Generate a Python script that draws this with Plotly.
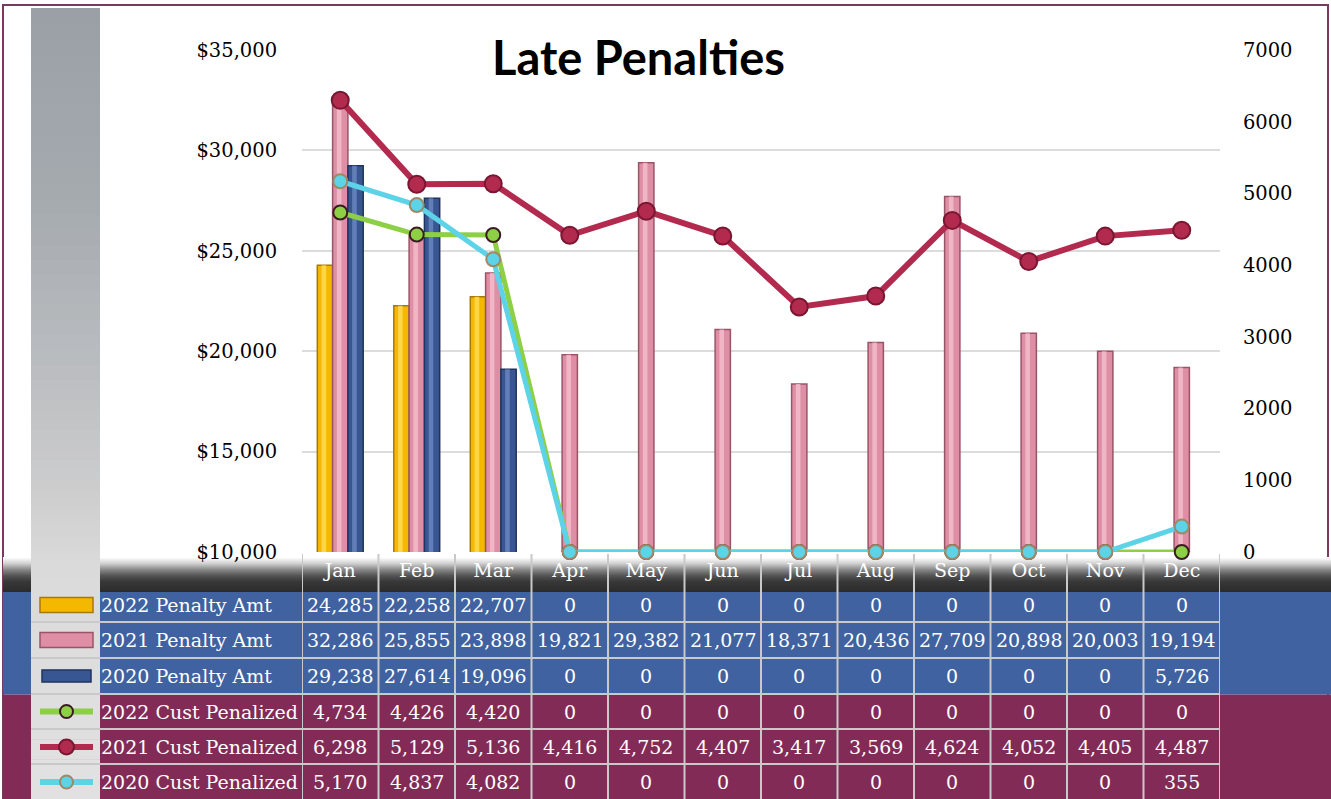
import plotly.graph_objects as go

# ---- data -------------------------------------------------------------
months = ["Jan", "Feb", "Mar", "Apr", "May", "Jun",
          "Jul", "Aug", "Sep", "Oct", "Nov", "Dec"]

amt_2022 = [24285, 22258, 22707, 0, 0, 0, 0, 0, 0, 0, 0, 0]
amt_2021 = [32286, 25855, 23898, 19821, 29382, 21077,
            18371, 20436, 27709, 20898, 20003, 19194]
amt_2020 = [29238, 27614, 19096, 0, 0, 0, 0, 0, 0, 0, 0, 5726]

cust_2022 = [4734, 4426, 4420, 0, 0, 0, 0, 0, 0, 0, 0, 0]
cust_2021 = [6298, 5129, 5136, 4416, 4752, 4407,
             3417, 3569, 4624, 4052, 4405, 4487]
cust_2020 = [5170, 4837, 4082, 0, 0, 0, 0, 0, 0, 0, 0, 355]

row_names = ["2022 Penalty Amt", "2021 Penalty Amt", "2020 Penalty Amt",
             "2022 Cust Penalized", "2021 Cust Penalized", "2020 Cust Penalized"]

# ---- page geometry ----------------------------------------------------
W, H = 1331, 799


def px(x):
    return x / W


def py(y):
    return 1 - y / H


SERIF = "DejaVu Serif"
GOLD, GOLD_EDGE, GOLD_HI = "#F5B800", "#A67A00", "#FFE060"
PINK, PINK_EDGE, PINK_HI = "#DE8FA5", "#9A5468", "#F6C3D1"
BLUE, BLUE_EDGE, BLUE_HI = "#385692", "#1F3360", "#6F8CC4"
GREEN, GREEN_EDGE = "#8DCF45", "#3A1C22"
RED, RED_EDGE = "#B32A4F", "#7A1631"
CYAN, CYAN_EDGE = "#5CD3E6", "#A08866"
TBL_BLUE = "#4062A0"
TBL_PURPLE = "#832B57"
GRIDC = "#DCDCDC"
CELL_LINE = "#C9C9C9"

fig = go.Figure()

# ---- bars (primary axis): body plus a lighter centre stripe -------------
BAR_W = 0.2
for name, vals, fill, edge, hi, off in [
    ("2022 Penalty Amt", amt_2022, GOLD, GOLD_EDGE, GOLD_HI, -0.3),
    ("2021 Penalty Amt", amt_2021, PINK, PINK_EDGE, PINK_HI, -0.1),
    ("2020 Penalty Amt", amt_2020, BLUE, BLUE_EDGE, BLUE_HI, 0.1),
]:
    fig.add_trace(go.Bar(
        x=months, y=vals, name=name, width=BAR_W, offset=off,
        marker=dict(color=fill, line=dict(color=edge, width=1.5)),
        yaxis="y",
    ))
    fig.add_trace(go.Bar(
        x=months, y=vals, name=name, width=BAR_W * 0.3,
        offset=off + BAR_W * 0.28, hoverinfo="skip",
        marker=dict(color=hi, opacity=0.75, line=dict(width=0)),
        yaxis="y",
    ))

# ---- lines (secondary axis) -------------------------------------------
for name, vals, col, edge, msize, lw in [
    ("2022 Cust Penalized", cust_2022, GREEN, GREEN_EDGE, 14, 5),
    ("2021 Cust Penalized", cust_2021, RED, RED_EDGE, 17, 6),
    ("2020 Cust Penalized", cust_2020, CYAN, CYAN_EDGE, 14, 5),
]:
    fig.add_trace(go.Scatter(
        x=months, y=vals, name=name, mode="lines+markers",
        line=dict(color=col, width=lw),
        marker=dict(size=msize, color=col, line=dict(color=edge, width=2)),
        yaxis="y2", cliponaxis=False,
    ))

shapes = []

# outer frame
shapes.append(dict(type="rect", xref="paper", yref="paper",
                   x0=px(3), x1=px(1328), y0=py(799), y1=py(5),
                   line=dict(color="#7A3A60", width=2), fillcolor="white",
                   layer="below"))


def lerp(c1, c2, t):
    a = [int(c1[i:i + 2], 16) for i in (1, 3, 5)]
    b = [int(c2[i:i + 2], 16) for i in (1, 3, 5)]
    return "#%02X%02X%02X" % tuple(round(a[k] + (b[k] - a[k]) * t) for k in range(3))


# table background bands
shapes.append(dict(type="rect", xref="paper", yref="paper",
                   x0=px(3), x1=1, y0=py(694.5), y1=py(592),
                   line=dict(width=0), fillcolor=TBL_BLUE, layer="below"))
shapes.append(dict(type="rect", xref="paper", yref="paper",
                   x0=px(3), x1=1, y0=0, y1=py(694.5),
                   line=dict(width=0), fillcolor=TBL_PURPLE, layer="below"))

# header band gradient (white to near black)
stops = [(557, "#FFFFFF"), (563, "#D0D0D0"), (569, "#8A8A8A"),
         (575, "#555555"), (581, "#383838"), (592, "#2A2A2A")]
for i in range(len(stops) - 1):
    y0, c0 = stops[i]
    y1, c1 = stops[i + 1]
    n = max(1, (y1 - y0))
    for k in range(n):
        shapes.append(dict(type="rect", xref="paper", yref="paper",
                           x0=px(3), x1=1,
                           y0=py(y0 + k + 1.05), y1=py(y0 + k),
                           line=dict(width=0),
                           fillcolor=lerp(c0, c1, k / n), layer="below"))

# left grey column
col_stops = [(8, "#9AA0A6"), (200, "#A6ABB0"), (380, "#BDBFC2"),
             (500, "#CFCFCF"), (560, "#DADADA"), (799, "#E2E2E2")]
for i in range(len(col_stops) - 1):
    y0, c0 = col_stops[i]
    y1, c1 = col_stops[i + 1]
    n = 12
    step = (y1 - y0) / n
    for k in range(n):
        shapes.append(dict(type="rect", xref="paper", yref="paper",
                           x0=px(31), x1=px(100),
                           y0=py(y0 + (k + 1) * step + 0.6), y1=py(y0 + k * step),
                           line=dict(width=0),
                           fillcolor=lerp(c0, c1, k / n), layer="below"))

# table cell lines
row_edges = [622, 658, 694, 729, 764]
for ye in row_edges:
    shapes.append(dict(type="line", xref="paper", yref="paper",
                       x0=px(31), x1=px(1220), y0=py(ye), y1=py(ye),
                       line=dict(color=CELL_LINE, width=2), layer="below"))
for k in range(len(months) + 1):
    shapes.append(dict(type="line", xref="x", yref="paper",
                       x0=k - 0.5, x1=k - 0.5, y0=py(799), y1=py(554),
                       line=dict(color=CELL_LINE, width=2), layer="below"))

row_centers = [605, 640, 676, 711.5, 747, 782]

# legend keys in the grey column
for (fill, edge, xa, xb, hh), yc in zip(
        [(GOLD, GOLD_EDGE, 40, 93, 15), (PINK, PINK_EDGE, 40, 93, 15),
         (BLUE, BLUE_EDGE, 42, 91, 12)], row_centers[:3]):
    shapes.append(dict(type="rect", xref="paper", yref="paper",
                       x0=px(xa), x1=px(xb), y0=py(yc + hh / 2), y1=py(yc - hh / 2),
                       line=dict(color=edge, width=1.5), fillcolor=fill, layer="above"))
for (col, edge, r), yc in zip(
        [(GREEN, GREEN_EDGE, 6.5), (RED, RED_EDGE, 7.5), (CYAN, CYAN_EDGE, 6.5)],
        row_centers[3:]):
    shapes.append(dict(type="line", xref="paper", yref="paper",
                       x0=px(40), x1=px(93), y0=py(yc), y1=py(yc),
                       line=dict(color=col, width=6), layer="above"))
    shapes.append(dict(type="circle", xref="paper", yref="paper",
                       x0=px(66.5 - r), x1=px(66.5 + r), y0=py(yc + r), y1=py(yc - r),
                       line=dict(color=edge, width=2), fillcolor=col, layer="above"))

# ---- table text -------------------------------------------------------
annotations = []
series = [amt_2022, amt_2021, amt_2020, cust_2022, cust_2021, cust_2020]
for name, vals, yc in zip(row_names, series, row_centers):
    annotations.append(dict(
        text=name, xref="paper", yref="paper", x=px(99), y=py(yc),
        xanchor="left", yanchor="middle", showarrow=False,
        font=dict(family=SERIF, size=19, color="white")))
    for m, v in zip(months, vals):
        annotations.append(dict(
            text=f"{v:,}", xref="x", yref="paper", x=m, y=py(yc),
            xanchor="center", yanchor="middle", showarrow=False,
            font=dict(family=SERIF, size=19, color="white")))

# chart title on a white plate over the top gridline
annotations.append(dict(
    text="<b>Late Penalties</b>", xref="paper", yref="paper",
    x=px(638), y=py(57), xanchor="center", yanchor="middle", showarrow=False,
    bgcolor="white", borderpad=4,
    font=dict(family="Lato", size=47, color="black")))

fig.update_layout(
    width=W, height=H,
    margin=dict(l=0, r=0, t=0, b=0, autoexpand=False),
    paper_bgcolor="white", plot_bgcolor="rgba(0,0,0,0)",
    barmode="overlay",
    showlegend=False,
    shapes=shapes, annotations=annotations,
    xaxis=dict(
        domain=[px(302), px(1220)], type="category", automargin=False,
        range=[-0.5, len(months) - 0.5],
        showgrid=False, zeroline=False, showline=False,
        ticks="outside", ticklen=1, tickcolor="rgba(0,0,0,0)",
        tickfont=dict(family=SERIF, size=19, color="white"),
    ),
    yaxis=dict(
        domain=[py(552), py(50)], range=[10000, 35000], dtick=5000,
        automargin=False,
        tickformat="$,.0f", showgrid=True, gridcolor=GRIDC, gridwidth=1.5,
        zeroline=False, showline=False,
        ticks="outside", ticklen=20, tickcolor="rgba(0,0,0,0)",
        tickfont=dict(family=SERIF, size=19.5, color="black"),
    ),
    yaxis2=dict(
        overlaying="y", side="right", range=[0, 7000], dtick=1000,
        automargin=False,
        tickformat="d", showgrid=False, zeroline=False, showline=False,
        ticks="outside", ticklen=18, tickcolor="rgba(0,0,0,0)",
        tickfont=dict(family=SERIF, size=19.5, color="black"),
    ),
)

fig.write_html("out.html")
